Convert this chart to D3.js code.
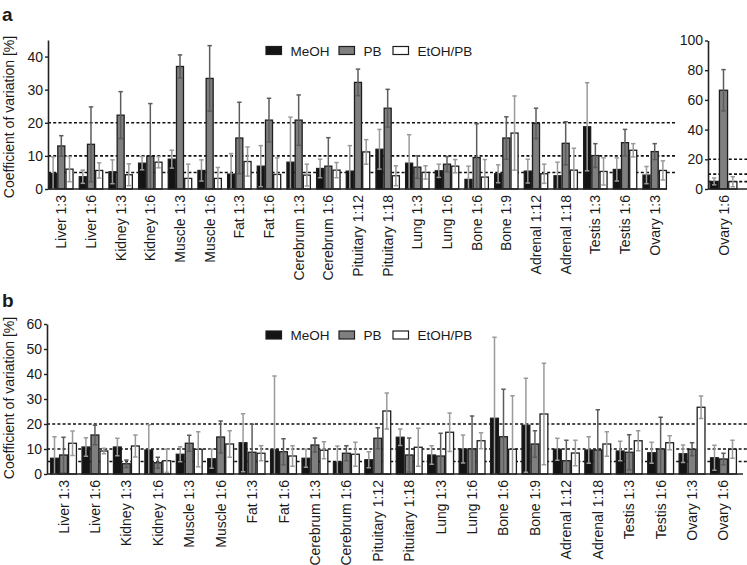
<!DOCTYPE html>
<html>
<head>
<meta charset="utf-8">
<script src="https://cdn.jsdelivr.net/npm/d3@7"></script>
<style>
body{margin:0;background:#fff;}
svg{display:block;}
text{font-family:"Liberation Sans",Arial,sans-serif;fill:#1a1a1a;}
</style>
</head>
<body>
<svg id="chart" width="747" height="565"></svg>
<script>
// ---------- data ----------
const seriesNames = ["MeOH", "PB", "EtOH/PB"];
const catsA = ["Liver 1:3","Liver 1:6","Kidney 1:3","Kidney 1:6","Muscle 1:3","Muscle 1:6","Fat 1:3","Fat 1:6","Cerebrum 1:3","Cerebrum 1:6","Pituitary 1:12","Pituitary 1:18","Lung 1:3","Lung 1:6","Bone 1:6","Bone 1:9","Adrenal 1:12","Adrenal 1:18","Testis 1:3","Testis 1:6","Ovary 1:3"];
const meohA    = [4.7,3.7,5.2,7.8,9.0,5.6,4.5,6.9,8.1,6.2,5.4,12.0,7.8,5.5,2.9,4.6,5.4,4.0,18.8,5.9,4.2];
const meohAErr = [5.0,2.0,3.6,2.0,2.7,3.2,6.2,6.2,13.6,2.8,7.7,6.0,8.6,2.0,4.0,2.7,3.6,4.1,13.3,3.5,2.6];
const pbA      = [13.0,13.5,22.3,9.9,37.0,33.4,15.4,20.8,20.8,6.9,32.2,24.4,6.6,7.5,9.5,15.4,19.8,13.8,10.1,14.0,11.3];
const pbAErr   = [3.1,11.3,7.1,15.9,3.5,9.9,10.8,6.6,7.6,8.6,4.0,5.7,3.4,2.3,10.2,6.4,4.6,6.5,3.6,4.0,2.4];
const etohA    = [6.0,5.6,4.3,8.1,3.2,3.2,8.3,4.4,4.2,5.7,11.2,4.0,5.0,6.9,3.6,16.9,4.6,5.7,5.3,11.7,5.6];
const etohAErr = [3.8,2.3,3.3,1.7,4.3,3.3,4.4,5.0,3.3,2.3,3.7,3.0,2.0,2.0,5.3,11.2,2.9,6.6,4.1,2.0,2.9];

const catsInset = ["Ovary 1:6"];
const meohInset = [5.1], meohInsetErr = [2.3];
const pbInset = [66.5], pbInsetErr = [13.9];
const etohInset = [4.9], etohInsetErr = [3.4];

const catsB = ["Liver 1:3","Liver 1:6","Kidney 1:3","Kidney 1:6","Muscle 1:3","Muscle 1:6","Fat 1:3","Fat 1:6","Cerebrum 1:3","Cerebrum 1:6","Pituitary 1:12","Pituitary 1:18","Lung 1:3","Lung 1:6","Bone 1:6","Bone 1:9","Adrenal 1:12","Adrenal 1:18","Testis 1:3","Testis 1:6","Ovary 1:3","Ovary 1:6"];
const meohB    = [6.3,10.8,10.8,9.6,7.9,6.1,12.5,9.7,6.3,4.8,5.7,14.7,7.6,10.0,22.3,19.5,9.9,9.6,9.2,8.5,8.1,6.5];
const meohBErr = [8.6,3.7,3.5,10.1,3.0,3.8,11.6,29.5,3.6,6.4,3.2,3.3,3.7,5.6,32.4,18.8,4.4,5.3,3.9,4.2,3.5,5.0];
const pbB      = [7.6,15.6,4.1,4.5,12.3,14.8,8.7,8.9,11.6,8.3,14.3,7.6,7.2,10.0,14.9,12.0,5.3,9.6,8.7,10.0,9.9,6.0];
const pbBErr   = [7.1,3.9,1.5,2.2,3.2,6.4,11.2,5.2,2.8,3.0,4.2,6.8,9.1,13.2,19.0,5.3,8.2,16.1,7.0,12.7,2.6,2.3];
const etohB    = [12.3,9.2,11.2,5.3,9.9,12.0,8.3,7.2,9.5,7.9,25.2,10.7,16.7,13.3,9.9,24.0,8.4,12.0,13.3,12.5,26.7,9.9];
const etohBErr = [4.9,1.1,4.4,4.6,7.0,5.3,3.0,4.1,3.4,4.8,7.2,7.6,7.7,3.2,21.4,20.3,5.1,4.9,4.0,2.8,4.5,3.6];

const refLines = [5, 10, 20];
const ticksA = [0,10,20,30,40];
const ticksInset = [0,20,40,60,80,100];
const ticksB = [0,10,20,30,40,50,60];
const yTitle = "Coefficient of variation [%]";

// ---------- styles ----------
const fills = {"MeOH":"#141414","PB":"#7f7f7f","EtOH/PB":"#ffffff"};
const errCol = {"MeOH":"#9a9a9a","PB":"#5c5c5c","EtOH/PB":"#9a9a9a"};
const svg = d3.select("#chart");

function buildRows(cats, m, me, p, pe, e, ee){
  return cats.map((c,i)=>({cat:c, vals:[
    {s:"MeOH", v:m[i], err:me[i]},
    {s:"PB", v:p[i], err:pe[i]},
    {s:"EtOH/PB", v:e[i], err:ee[i]}]}));
}

function drawPanel(o){
  const g = svg.append("g");
  const x = d3.scaleBand().domain(o.cats).range(o.xRange).paddingInner(o.pad).paddingOuter(0);
  const xs = d3.scaleBand().domain(seriesNames).range([0, x.bandwidth()]).padding(0);
  const y = d3.scaleLinear().domain(o.yDomain).range(o.yRange);

  // reference dashed lines
  g.selectAll("line.ref").data(refLines).join("line")
    .attr("x1", o.axisX).attr("x2", o.refEnd)
    .attr("y1", d=>y(d)).attr("y2", d=>y(d))
    .attr("stroke","#111").attr("stroke-width",1.6).attr("stroke-dasharray","3,2.2");

  const grp = g.selectAll("g.grp").data(o.rows).join("g")
    .attr("transform", d=>`translate(${x(d.cat)},0)`);
  grp.selectAll("rect").data(d=>d.vals).join("rect")
    .attr("x", d=>xs(d.s)+0.6).attr("width", xs.bandwidth()-1.2)
    .attr("y", d=>y(d.v)).attr("height", d=>y(0)-y(d.v))
    .attr("fill", d=>fills[d.s]).attr("stroke","#1e1e1e").attr("stroke-width",1.3);
  // error bars
  const eb = grp.selectAll("g.eb").data(d=>d.vals).join("g")
    .attr("stroke", d=>errCol[d.s]).attr("stroke-width",1.5);
  eb.append("line")
    .attr("x1", d=>xs(d.s)+xs.bandwidth()/2).attr("x2", d=>xs(d.s)+xs.bandwidth()/2)
    .attr("y1", d=>y(Math.max(0,d.v-d.err))).attr("y2", d=>y(d.v+d.err));
  eb.append("line")
    .attr("x1", d=>xs(d.s)+xs.bandwidth()/2-2.2).attr("x2", d=>xs(d.s)+xs.bandwidth()/2+2.2)
    .attr("y1", d=>y(d.v+d.err)).attr("y2", d=>y(d.v+d.err));
  eb.append("line")
    .attr("x1", d=>xs(d.s)+xs.bandwidth()/2-2.2).attr("x2", d=>xs(d.s)+xs.bandwidth()/2+2.2)
    .attr("y1", d=>y(Math.max(0,d.v-d.err))).attr("y2", d=>y(Math.max(0,d.v-d.err)));

  // y axis
  const ya = g.append("g").attr("transform",`translate(${o.axisX},0)`)
    .call(d3.axisLeft(y).tickValues(o.ticks).tickSize(3).tickPadding(2).tickSizeOuter(0));
  ya.select(".domain").attr("stroke","#222").attr("stroke-width",1.6);
  ya.selectAll(".tick line").attr("stroke","#222").attr("stroke-width",1.4);
  ya.selectAll("text").attr("font-size","14px").attr("fill","#1a1a1a")
    .style("font-family","'Liberation Sans',Arial,sans-serif");

  // x axis line
  g.append("line").attr("x1",o.axisX).attr("x2",o.xAxisEnd)
    .attr("y1",y(0)).attr("y2",y(0)).attr("stroke","#222").attr("stroke-width",1.6);

  // category labels
  g.selectAll("text.cat").data(o.cats).join("text")
    .attr("class","cat")
    .attr("transform", d=>`translate(${x(d)+x.bandwidth()/2+5},${y(0)+6}) rotate(-90)`)
    .attr("text-anchor","end").attr("font-size","14px").text(d=>d);
  return {x,y};
}

// ----- panel a -----
const rowsA = buildRows(catsA, meohA, meohAErr, pbA, pbAErr, etohA, etohAErr);
drawPanel({cats:catsA, rows:rowsA, xRange:[49,667], pad:0.17, yDomain:[0,45], yRange:[189,40],
  axisX:48, refEnd:677, xAxisEnd:667, ticks:ticksA});
const rowsInset = buildRows(catsInset, meohInset, meohInsetErr, pbInset, pbInsetErr, etohInset, etohInsetErr);
drawPanel({cats:catsInset, rows:rowsInset, xRange:[709.5,737.5], pad:0, yDomain:[0,100], yRange:[189,40.5],
  axisX:708, refEnd:747, xAxisEnd:747, ticks:ticksInset});

// ----- panel b -----
const rowsB = buildRows(catsB, meohB, meohBErr, pbB, pbBErr, etohB, etohBErr);
drawPanel({cats:catsB, rows:rowsB, xRange:[50,737], pad:0.14, yDomain:[0,60], yRange:[474,324],
  axisX:47, refEnd:747, xAxisEnd:743, ticks:ticksB});

// titles, panel letters
svg.append("text").attr("x",2).attr("y",21).attr("font-size","19px").attr("font-weight","bold").text("a");
svg.append("text").attr("x",2).attr("y",307).attr("font-size","19px").attr("font-weight","bold").text("b");
svg.append("text").attr("transform","translate(14,117) rotate(-90)").attr("text-anchor","middle")
  .attr("font-size","14px").text(yTitle);
svg.append("text").attr("transform","translate(14,398) rotate(-90)").attr("text-anchor","middle")
  .attr("font-size","14px").text(yTitle);

// legends
function legend(cy){
  const pos = [266, 339, 393];
  const lg = svg.append("g");
  seriesNames.forEach((s,i)=>{
    lg.append("rect").attr("x",pos[i]).attr("y",cy-4).attr("width",15.5).attr("height",8)
      .attr("fill",fills[s]).attr("stroke","#1e1e1e").attr("stroke-width",1.2);
    lg.append("text").attr("x",pos[i]+24.5).attr("y",cy+5).attr("font-size","13.5px").text(s);
  });
}
legend(50.5);
legend(335);
</script>
</body>
</html>
